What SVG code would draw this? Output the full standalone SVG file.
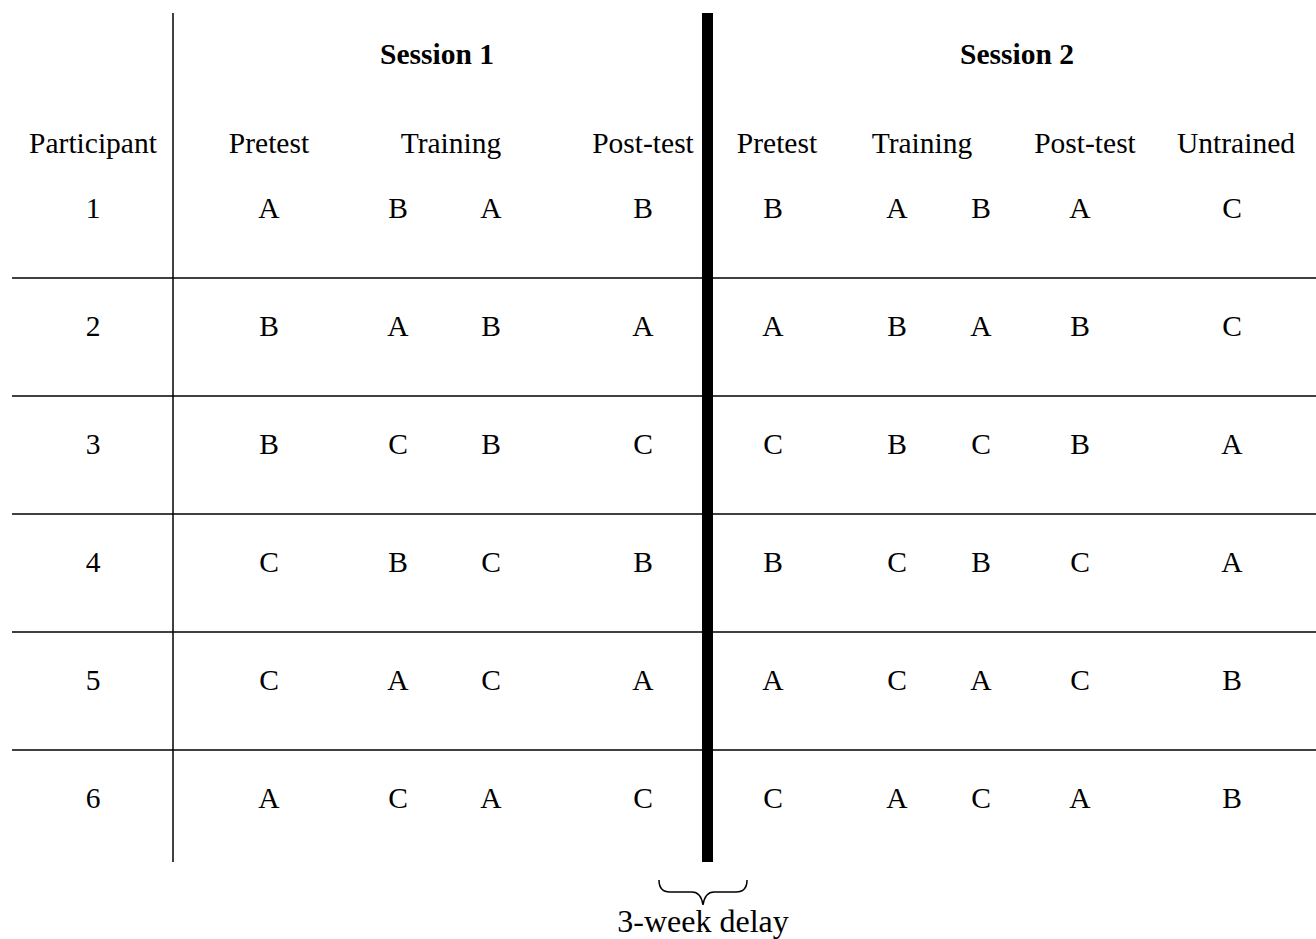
<svg xmlns="http://www.w3.org/2000/svg" width="1316" height="939" viewBox="0 0 1316 939">
<style>
text{font-family:"Liberation Serif","Times New Roman","DejaVu Serif",serif;font-size:29.5px;fill:#000;text-anchor:middle}
.b{font-weight:bold}
.d{font-size:32px}
.ln{stroke:#000;stroke-width:1.5;fill:none}
</style>
<rect width="1316" height="939" fill="#fff"/>
<g id="connectors">
<line class="ln" x1="173" y1="13" x2="173" y2="862"/>
<line class="ln" x1="12" y1="278" x2="1316" y2="278"/>
<line class="ln" x1="12" y1="396" x2="1316" y2="396"/>
<line class="ln" x1="12" y1="514" x2="1316" y2="514"/>
<line class="ln" x1="12" y1="632" x2="1316" y2="632"/>
<line class="ln" x1="12" y1="750" x2="1316" y2="750"/>
<rect x="702" y="13" width="11" height="849" fill="#000"/>
<path class="ln" d="M659,880 Q659,892 670,892 L692,892 Q701,892 703,905 Q705,892 714,892 L736,892 Q747,892 747,880"/>
</g>
<g id="headers">
<text class="b" x="437" y="64">Session 1</text>
<text class="b" x="1017" y="64">Session 2</text>
<text x="93" y="153">Participant</text>
<text x="269" y="153">Pretest</text>
<text x="451" y="153">Training</text>
<text x="643" y="153">Post-test</text>
<text x="777" y="153">Pretest</text>
<text x="922" y="153">Training</text>
<text x="1085" y="153">Post-test</text>
<text x="1236" y="153">Untrained</text>
</g>
<g id="row1"><text x="93" y="218">1</text><text x="269" y="218">A</text><text x="398" y="218">B</text><text x="491" y="218">A</text><text x="643" y="218">B</text><text x="773" y="218">B</text><text x="897" y="218">A</text><text x="981" y="218">B</text><text x="1080" y="218">A</text><text x="1232" y="218">C</text></g>
<g id="row2"><text x="93" y="336">2</text><text x="269" y="336">B</text><text x="398" y="336">A</text><text x="491" y="336">B</text><text x="643" y="336">A</text><text x="773" y="336">A</text><text x="897" y="336">B</text><text x="981" y="336">A</text><text x="1080" y="336">B</text><text x="1232" y="336">C</text></g>
<g id="row3"><text x="93" y="454">3</text><text x="269" y="454">B</text><text x="398" y="454">C</text><text x="491" y="454">B</text><text x="643" y="454">C</text><text x="773" y="454">C</text><text x="897" y="454">B</text><text x="981" y="454">C</text><text x="1080" y="454">B</text><text x="1232" y="454">A</text></g>
<g id="row4"><text x="93" y="572">4</text><text x="269" y="572">C</text><text x="398" y="572">B</text><text x="491" y="572">C</text><text x="643" y="572">B</text><text x="773" y="572">B</text><text x="897" y="572">C</text><text x="981" y="572">B</text><text x="1080" y="572">C</text><text x="1232" y="572">A</text></g>
<g id="row5"><text x="93" y="690">5</text><text x="269" y="690">C</text><text x="398" y="690">A</text><text x="491" y="690">C</text><text x="643" y="690">A</text><text x="773" y="690">A</text><text x="897" y="690">C</text><text x="981" y="690">A</text><text x="1080" y="690">C</text><text x="1232" y="690">B</text></g>
<g id="row6"><text x="93" y="808">6</text><text x="269" y="808">A</text><text x="398" y="808">C</text><text x="491" y="808">A</text><text x="643" y="808">C</text><text x="773" y="808">C</text><text x="897" y="808">A</text><text x="981" y="808">C</text><text x="1080" y="808">A</text><text x="1232" y="808">B</text></g>
<g id="delay-label"><text class="d" x="703" y="932">3-week delay</text></g>
</svg>
